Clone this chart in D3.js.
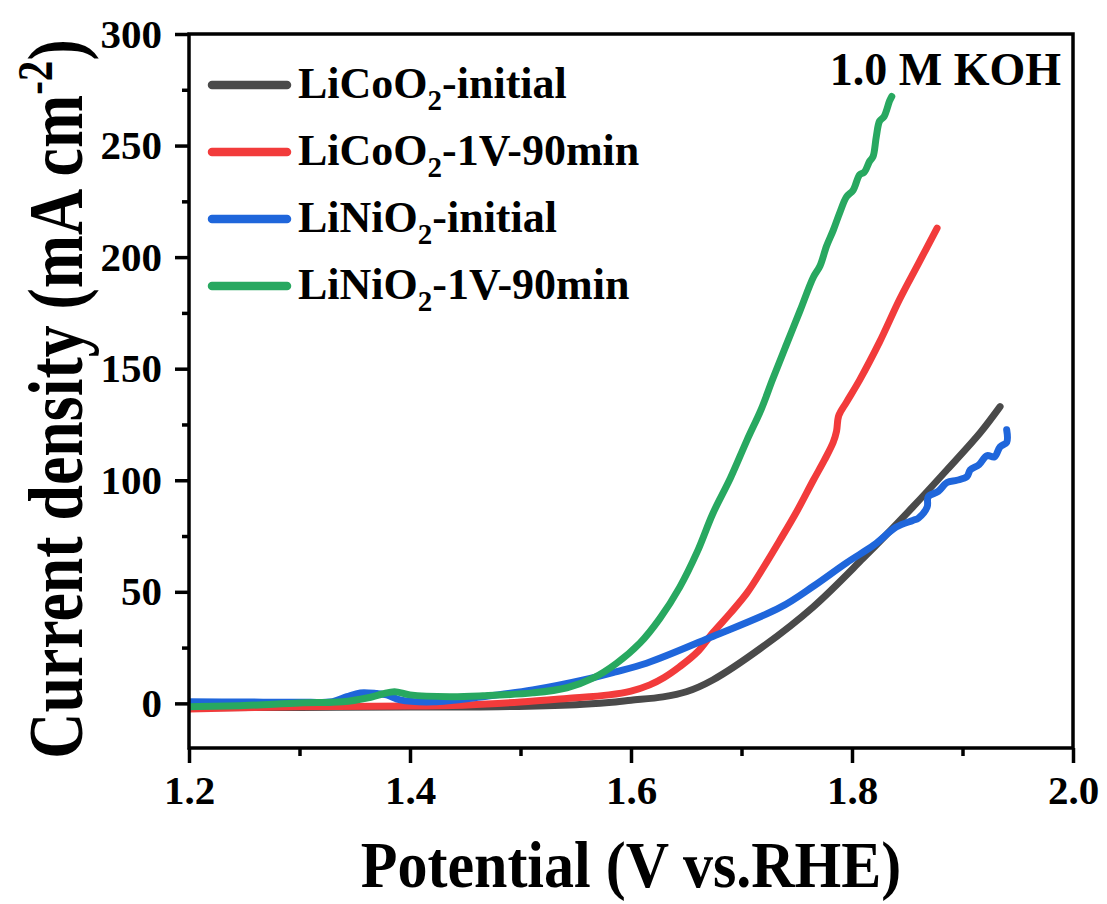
<!DOCTYPE html>
<html>
<head>
<meta charset="utf-8">
<script src="https://cdn.jsdelivr.net/npm/d3@7"></script>
<style>
  body { margin: 0; background: #fff; }
  text { font-family: "Liberation Serif", "Times New Roman", serif; font-weight: bold; fill: #000; }
</style>
</head>
<body>
<svg id="chart" width="1107" height="904"></svg>
<script>
// Polarisation curves (LSV) in 1.0 M KOH: potential (V vs. RHE) and current density (mA cm^-2)
const licoInitialV = [1.20, 1.30, 1.40, 1.48, 1.55, 1.58, 1.60, 1.629, 1.65, 1.674, 1.719, 1.765, 1.81, 1.855, 1.886, 1.916, 1.934];
const licoInitialJ = [-2.0, -1.8, -1.6, -1.5, -0.6, 0.4, 1.4, 2.9, 5.2, 10.5, 25.3, 43.3, 65, 88, 104.7, 121.3, 133];

const licoTreatedV = [1.20, 1.30, 1.40, 1.452, 1.50, 1.542, 1.58, 1.60, 1.617, 1.63, 1.644, 1.66, 1.674, 1.69, 1.705, 1.72, 1.735, 1.75, 1.765, 1.775, 1.783, 1.786, 1.788, 1.795, 1.807, 1.825, 1.843, 1.86, 1.877];
const licoTreatedJ = [-2.5, -1.5, -1.2, -0.7, 0.6, 2.2, 3.8, 5.5, 8.3, 11.6, 16.4, 23, 31.6, 40.5, 49.5, 61, 73.3, 86, 100, 109, 117, 122, 129, 135, 145, 162, 181, 197, 213];

const liniInitialV = [1.20, 1.25, 1.30, 1.33, 1.343, 1.355, 1.37, 1.379, 1.391, 1.421, 1.466, 1.511, 1.557, 1.585, 1.614, 1.674, 1.735, 1.765, 1.795, 1.82, 1.840, 1.855, 1.860, 1.868, 1.869, 1.878, 1.886, 1.895, 1.904, 1.907, 1.915, 1.922, 1.929, 1.934, 1.940, 1.940];
const liniInitialJ = [0.7, 0.6, 0.5, 0.8, 3.0, 4.7, 4.4, 3.8, 1.6, 0.7, 3.0, 6.0, 10.5, 14, 18, 30, 43, 52.5, 63, 71, 79, 82, 83, 88, 92.6, 95, 99, 100, 101.6, 104.6, 107, 111, 110.5, 115, 117, 122.6];

const liniTreatedV = [1.20, 1.25, 1.30, 1.339, 1.361, 1.375, 1.386, 1.40, 1.436, 1.466, 1.511, 1.542, 1.566, 1.587, 1.608, 1.626, 1.644, 1.66, 1.674, 1.69, 1.705, 1.718, 1.728, 1.74, 1.753, 1.765, 1.771, 1.777, 1.783, 1.789, 1.795, 1.801, 1.807, 1.811, 1.816, 1.819, 1.822, 1.825, 1.829, 1.834, 1.836];
const liniTreatedJ = [-1.5, -1.0, 0.2, 0.7, 2.4, 4.2, 5.2, 3.8, 3.0, 3.4, 4.7, 7.0, 11.4, 18, 27, 38, 52, 68, 85, 101, 118, 132, 145, 160, 176, 191, 196, 205, 212, 220, 227, 230, 237, 238, 243, 245, 254, 261, 263, 270, 272];

const seriesV = [licoInitialV, licoTreatedV, liniInitialV, liniTreatedV];
const seriesJ = [licoInitialJ, licoTreatedJ, liniInitialJ, liniTreatedJ];
const seriesColors = ["#4a4a4a", "#f23b3b", "#1f66db", "#28a860"];
const legendBase = ["LiCoO", "LiCoO", "LiNiO", "LiNiO"];
const legendSub = ["2", "2", "2", "2"];
const legendSuffix = ["-initial", "-1V-90min", "-initial", "-1V-90min"];

const xMajorTicks = [1.2, 1.4, 1.6, 1.8, 2.0];
const xMinorTicks = [1.3, 1.5, 1.7, 1.9];
const yMajorTicks = [0, 50, 100, 150, 200, 250, 300];
const yMinorTicks = [25, 75, 125, 175, 225, 275];

const svg = d3.select("#chart");
const plotLeft = 189, plotRight = 1073, plotTop = 34, plotBottom = 748;

const x = d3.scaleLinear().domain([1.2, 2.0]).range([plotLeft, plotRight]);
const y = d3.scaleLinear().domain([-20, 300]).range([plotBottom, plotTop]);

svg.append("clipPath").attr("id", "plotClip")
  .append("rect").attr("x", plotLeft).attr("y", plotTop)
  .attr("width", plotRight - plotLeft).attr("height", plotBottom - plotTop);

const plot = svg.append("g").attr("clip-path", "url(#plotClip)");

const line = d3.line()
  .x(d => x(d[0]))
  .y(d => y(d[1]))
  .curve(d3.curveCatmullRom.alpha(0.5));

seriesV.forEach((vs, i) => {
  const pts = vs.map((v, k) => [v, seriesJ[i][k]]);
  plot.append("path")
    .datum(pts)
    .attr("fill", "none")
    .attr("stroke", seriesColors[i])
    .attr("stroke-width", 7)
    .attr("stroke-linecap", "round")
    .attr("stroke-linejoin", "round")
    .attr("d", line);
});

// Axes
const axisW = 3.5;
function styleAxis(g) {
  g.select(".domain").remove();
  g.selectAll(".tick line").attr("stroke", "#000").attr("stroke-width", axisW);
  g.selectAll(".tick text").style("font-size", "41px");
}

svg.append("g").attr("transform", `translate(0,${plotBottom})`)
  .call(d3.axisBottom(x).tickValues(xMajorTicks).tickSize(15).tickPadding(12).tickFormat(d3.format(".1f")))
  .call(styleAxis);
svg.append("g").attr("transform", `translate(0,${plotBottom})`)
  .call(d3.axisBottom(x).tickValues(xMinorTicks).tickSize(8).tickFormat(""))
  .call(styleAxis);
svg.append("g").attr("transform", `translate(${plotLeft},0)`)
  .call(d3.axisLeft(y).tickValues(yMajorTicks).tickSize(14).tickPadding(13))
  .call(styleAxis);
svg.append("g").attr("transform", `translate(${plotLeft},0)`)
  .call(d3.axisLeft(y).tickValues(yMinorTicks).tickSize(7).tickFormat(""))
  .call(styleAxis);

// Frame
svg.append("rect")
  .attr("x", plotLeft).attr("y", plotTop)
  .attr("width", plotRight - plotLeft).attr("height", plotBottom - plotTop)
  .attr("fill", "none").attr("stroke", "#000").attr("stroke-width", axisW);

// Axis titles (tall serif faces)
svg.append("text")
  .attr("transform", `translate(${(plotLeft + plotRight) / 2},887) scale(1,1.08)`)
  .attr("text-anchor", "middle")
  .style("font-size", "60px")
  .text("Potential (V vs.RHE)");

const yTitle = svg.append("text")
  .attr("transform", `translate(82,${(plotTop + plotBottom) / 2 + 8}) rotate(-90) scale(1.03,1.25)`)
  .attr("text-anchor", "middle")
  .style("font-size", "62px");
yTitle.append("tspan").text("Current density (mA cm");
yTitle.append("tspan").attr("dy", -24).style("font-size", "40px").text("-2");
yTitle.append("tspan").attr("dy", 24).text(")");

// Legend
const legend = svg.append("g");
const rowGap = 67;
seriesColors.forEach((c, i) => {
  const yy = 85 + i * rowGap;
  legend.append("line")
    .attr("x1", 212).attr("x2", 287)
    .attr("y1", yy).attr("y2", yy)
    .attr("stroke", c).attr("stroke-width", 8.5).attr("stroke-linecap", "round");
  const t = legend.append("text")
    .attr("x", 298).attr("y", yy + 13)
    .style("font-size", "44px");
  t.append("tspan").text(legendBase[i]);
  t.append("tspan").attr("dy", 12).style("font-size", "29px").text(legendSub[i]);
  t.append("tspan").attr("dy", -12).text(legendSuffix[i]);
});

// Electrolyte note
svg.append("text")
  .attr("x", 1061).attr("y", 85)
  .attr("text-anchor", "end")
  .style("font-size", "46px")
  .text("1.0 M KOH");
</script>
</body>
</html>
